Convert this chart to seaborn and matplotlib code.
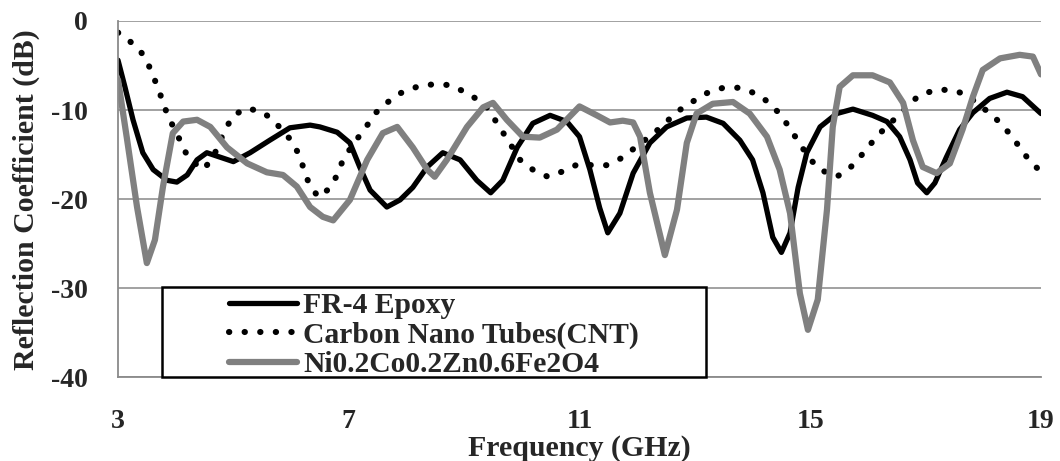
import numpy as np
import pandas as pd
import seaborn as sns
import matplotlib
matplotlib.use("Agg")
import matplotlib.pyplot as plt
from matplotlib.patches import Rectangle

# ---- data ----
fr4_x = [3.0, 3.12, 3.26, 3.43, 3.61, 3.85, 4.02, 4.2, 4.37, 4.54, 4.77, 5.0, 5.29, 5.63, 5.98, 6.33, 6.5, 6.8, 7.02, 7.19, 7.37, 7.66, 7.89, 8.11, 8.36, 8.63, 8.93, 9.22, 9.46, 9.67, 9.92, 10.19, 10.49, 10.78, 11.0, 11.18, 11.35, 11.49, 11.7, 11.93, 12.22, 12.51, 12.86, 13.2, 13.49, 13.78, 14.0, 14.18, 14.35, 14.5, 14.65, 14.79, 14.94, 15.17, 15.46, 15.74, 16.08, 16.33, 16.55, 16.73, 16.86, 17.02, 17.16, 17.36, 17.59, 17.82, 18.11, 18.41, 18.68, 19.0]
fr4_y = [-4.4, -7.4, -11.1, -14.8, -16.7, -17.9, -18.1, -17.3, -15.6, -14.8, -15.3, -15.8, -14.8, -13.4, -12.0, -11.7, -11.9, -12.5, -13.7, -16.4, -19.0, -20.9, -20.1, -18.7, -16.4, -14.8, -15.6, -17.9, -19.3, -17.9, -14.2, -11.5, -10.6, -11.3, -13.0, -16.7, -21.0, -23.8, -21.6, -17.1, -13.7, -11.9, -10.9, -10.8, -11.5, -13.4, -15.6, -19.3, -24.3, -26.0, -23.8, -18.7, -14.8, -11.9, -10.4, -9.9, -10.6, -11.3, -13.0, -15.6, -18.2, -19.3, -18.2, -15.3, -12.2, -10.3, -8.7, -8.0, -8.5, -10.4]

cnt_x = [3.0, 3.21, 3.4, 3.5, 3.6, 3.69, 3.78, 3.87, 4.02, 4.13, 4.25, 4.48, 4.65, 4.75, 4.85, 5.0, 5.23, 5.5, 5.7, 6.0, 6.12, 6.21, 6.3, 6.47, 6.67, 6.8, 6.9, 7.0, 7.14, 7.3, 7.47, 7.68, 7.9, 8.22, 8.49, 8.75, 8.99, 9.2, 9.41, 9.62, 9.76, 9.97, 10.19, 10.45, 10.71, 10.97, 11.23, 11.47, 11.73, 11.93, 12.19, 12.4, 12.69, 12.95, 13.21, 13.49, 13.75, 13.99, 14.21, 14.47, 14.63, 14.77, 14.98, 15.17, 15.46, 15.69, 15.86, 16.0, 16.15, 16.35, 16.5, 16.69, 16.86, 16.99, 17.23, 17.49, 17.71, 17.92, 18.18, 18.35, 18.49, 18.63, 18.79, 18.96, 19.0]
cnt_y = [-1.3, -2.3, -3.5, -4.5, -6.0, -7.5, -9.1, -10.8, -12.6, -14.3, -15.6, -16.7, -15.3, -13.8, -12.3, -10.6, -9.8, -10.2, -11.2, -13.4, -14.8, -16.4, -18.1, -19.8, -18.8, -17.3, -15.6, -14.6, -13.3, -11.9, -10.3, -9.1, -8.1, -7.3, -7.1, -7.2, -7.9, -8.7, -9.8, -12.0, -13.4, -15.6, -16.7, -17.5, -16.9, -16.1, -16.2, -16.2, -15.4, -14.4, -13.1, -12.0, -10.2, -9.1, -8.1, -7.5, -7.5, -8.0, -8.8, -10.4, -11.9, -13.3, -15.4, -16.7, -17.5, -16.5, -15.3, -14.2, -13.0, -11.7, -10.8, -9.6, -8.5, -8.1, -7.7, -7.8, -8.3, -9.4, -10.7, -11.9, -12.9, -14.2, -15.6, -16.7, -17.0]

ni_x = [3.0, 3.15, 3.33, 3.5, 3.64, 3.78, 3.95, 4.13, 4.37, 4.6, 4.89, 5.24, 5.58, 5.86, 6.1, 6.33, 6.55, 6.73, 7.02, 7.32, 7.59, 7.84, 8.11, 8.36, 8.49, 8.7, 9.05, 9.33, 9.5, 9.74, 10.02, 10.31, 10.61, 11.0, 11.3, 11.53, 11.75, 11.93, 12.05, 12.22, 12.48, 12.69, 12.86, 13.03, 13.31, 13.66, 13.95, 14.25, 14.47, 14.65, 14.82, 14.96, 15.13, 15.29, 15.39, 15.51, 15.74, 16.08, 16.38, 16.61, 16.78, 16.95, 17.19, 17.42, 17.64, 17.82, 17.99, 18.29, 18.63, 18.86, 19.0]
ni_y = [-6.6, -13.0, -20.9, -27.2, -24.6, -18.6, -12.6, -11.3, -11.1, -11.9, -14.2, -16.0, -17.0, -17.3, -18.6, -20.9, -22.0, -22.4, -20.1, -15.6, -12.6, -11.9, -14.2, -16.7, -17.5, -15.6, -11.9, -9.7, -9.2, -11.1, -13.0, -13.1, -12.2, -9.6, -10.6, -11.4, -11.2, -11.4, -13.0, -19.3, -26.3, -21.2, -13.7, -10.4, -9.3, -9.1, -10.4, -13.0, -16.7, -21.6, -30.6, -34.7, -31.3, -21.2, -11.9, -7.4, -6.1, -6.1, -6.9, -9.2, -13.4, -16.4, -17.1, -16.0, -12.2, -8.5, -5.5, -4.2, -3.8, -4.0, -6.0]

series_names = ["FR-4 Epoxy", "Carbon Nano Tubes(CNT)", "Ni0.2Co0.2Zn0.6Fe2O4"]
x_ticks = [3, 7, 11, 15, 19]
y_ticks = [0, -10, -20, -30, -40]

df = pd.concat([
    pd.DataFrame({"Frequency": fr4_x, "dB": fr4_y, "Series": series_names[0]}),
    pd.DataFrame({"Frequency": cnt_x, "dB": cnt_y, "Series": series_names[1]}),
    pd.DataFrame({"Frequency": ni_x, "dB": ni_y, "Series": series_names[2]}),
])

sns.set_theme(style="white")
plt.rcParams['font.family'] = ['Liberation Serif', 'DejaVu Serif']
plt.rcParams['font.weight'] = 'bold'

fig = plt.figure(figsize=(10.6, 4.61), dpi=100)
ax = fig.add_axes([118/1060, 1 - 377/461, (1041-118)/1060, (377-21)/461])

styles = {
    series_names[0]: dict(color="black", linewidth=3.8, linestyle="-"),
    series_names[1]: dict(color="black", linewidth=4.4, linestyle=(0, (0.05, 2.5)), dash_capstyle="round"),
    series_names[2]: dict(color="#808080", linewidth=4.5, linestyle="-"),
}
order = [series_names[0], series_names[1], series_names[2]]
handles = []
for name in order:
    sub = df[df["Series"] == name]
    sns.lineplot(data=sub, x="Frequency", y="dB", ax=ax, sort=True, legend=False,
                 solid_capstyle="round", solid_joinstyle="round", **styles[name])
    handles.append(ax.lines[-1])

ax.set_xlim(3, 19)
ax.set_ylim(-40, 0)
ax.set_xticks(x_ticks)
ax.set_yticks(y_ticks)
ax.set_xticklabels([str(t) for t in x_ticks], fontsize=20, fontweight="bold")
ax.set_yticklabels([str(t) for t in y_ticks], fontsize=20, fontweight="bold")
ax.yaxis.grid(True, color="#9a9a9a", linewidth=1.3)
ax.xaxis.grid(False)
ax.set_axisbelow(True)
for s in ["top", "right"]:
    ax.spines[s].set_visible(False)
for s in ["left", "bottom"]:
    ax.spines[s].set_color("#8a8a8a")
    ax.spines[s].set_linewidth(1.3)
ax.tick_params(axis="x", direction="out", length=6, width=1.3, color="#8a8a8a", pad=17)
ax.tick_params(axis="y", direction="out", length=6, width=1.3, color="#8a8a8a", pad=16)
ax.set_xlabel("Frequency (GHz)", fontsize=21.5, fontweight="bold")
ax.set_ylabel("Reflection Coefficient (dB)", fontsize=21.5, fontweight="bold")
ax.xaxis.set_label_coords(0.5, -0.162)
ax.yaxis.set_label_coords(-0.084, 0.497)

# legend frame
x0 = (162 - 118) / 923
w = (706 - 162) / 923
h = (377 - 287) / 356
ax.add_patch(Rectangle((x0, 0.0), w, h, transform=ax.transAxes, fill=True,
                       facecolor="white", edgecolor="black", linewidth=1.8, zorder=5, clip_on=False))
leg = ax.legend(handles, order, loc="center", bbox_to_anchor=(x0, -3/356, w, h),
                frameon=False, handlelength=2.3, handletextpad=0.2,
                labelspacing=0.08, borderpad=0.0,
                prop={"weight": "bold", "size": 21.3, "family": "Liberation Serif"})
leg.set_zorder(6)

fig.savefig("out.png", dpi=100)
